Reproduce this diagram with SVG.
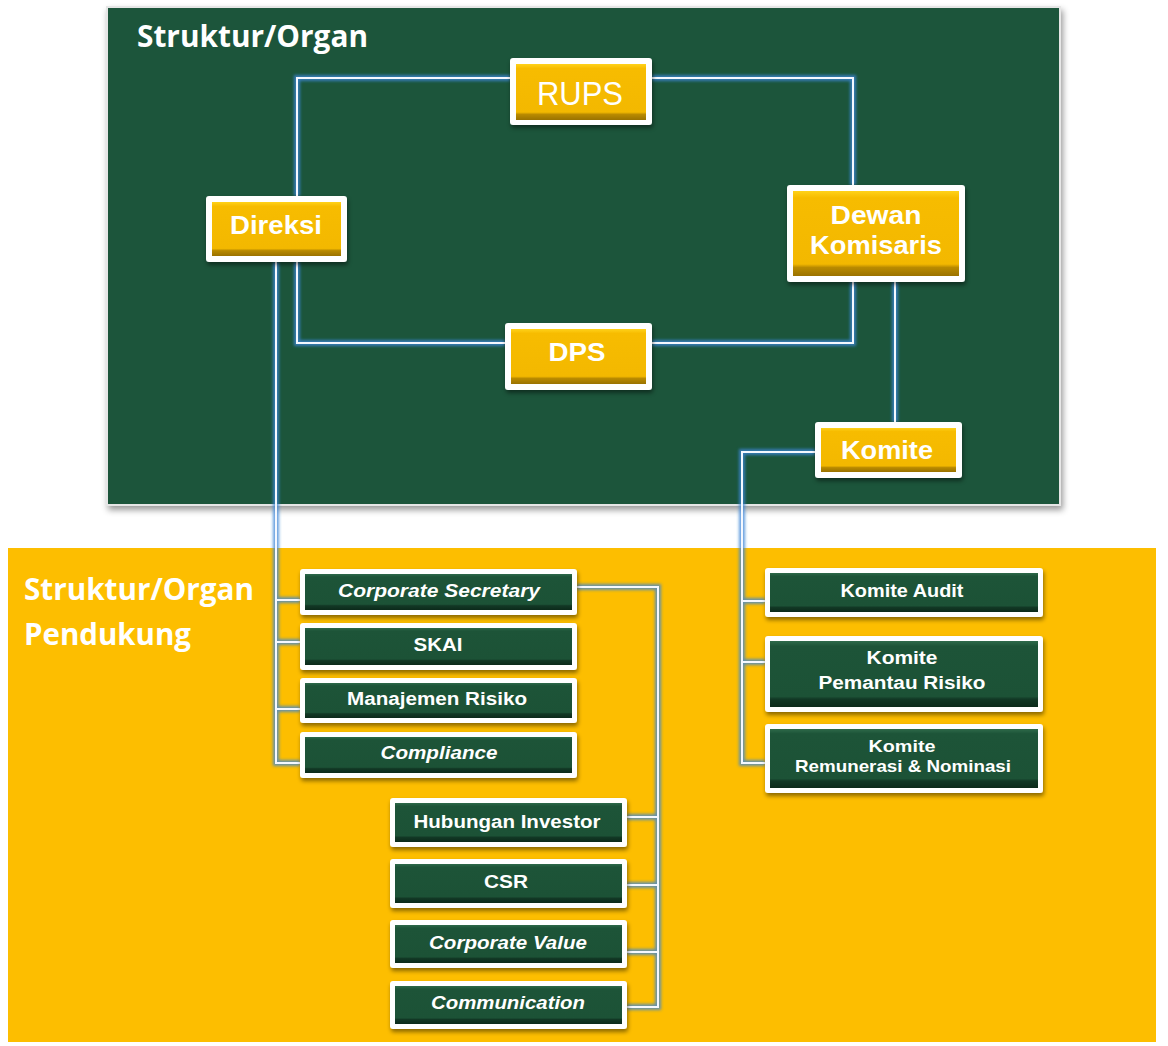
<svg xmlns="http://www.w3.org/2000/svg" width="1168" height="1046" viewBox="0 0 1168 1046">
<defs>
<filter id="sh" x="-10%" y="-10%" width="130%" height="140%"><feDropShadow dx="1" dy="3" stdDeviation="2" flood-color="#000" flood-opacity="0.45"/></filter>
<filter id="psh" x="-5%" y="-5%" width="110%" height="110%"><feDropShadow dx="2" dy="4" stdDeviation="3" flood-color="#000" flood-opacity="0.4"/></filter>
<filter id="glow" x="-20%" y="-20%" width="140%" height="140%"><feGaussianBlur stdDeviation="1.5"/></filter>
<linearGradient id="yel" x1="0" y1="0" x2="0" y2="1">
<stop offset="0" stop-color="#FFD21A"/><stop offset="0.08" stop-color="#F7BC00"/><stop offset="0.86" stop-color="#F3B800"/><stop offset="0.9" stop-color="#B98A00"/><stop offset="1" stop-color="#9A7200"/>
</linearGradient>
<linearGradient id="grn" x1="0" y1="0" x2="0" y2="1">
<stop offset="0" stop-color="#2E6A4A"/><stop offset="0.08" stop-color="#1D5438"/><stop offset="0.84" stop-color="#1C5236"/><stop offset="0.88" stop-color="#123825"/><stop offset="1" stop-color="#0C2A1A"/>
</linearGradient>
<style>
.panelG{fill:#1D553B;stroke:#E6E6E6;stroke-width:2}
.panelY{fill:#FDBE00}
.title{font-family:"Open Sans","Liberation Sans",sans-serif;font-weight:bold;fill:#fff;font-size:30px}
.outer{fill:#fff}
.yi{fill:url(#yel)}
.gi{fill:url(#grn)}
.yt{font-family:"Liberation Sans",Arial,sans-serif;font-weight:bold;fill:#fff;font-size:25px;text-anchor:middle}
.gt{font-family:"Liberation Sans",Arial,sans-serif;font-weight:bold;fill:#fff;font-size:18px;text-anchor:middle}
.it{font-style:italic}
.cg{fill:none;stroke:#3B86D6;stroke-width:6;opacity:0.8}
.cw{fill:none;stroke:#F4F8FF;stroke-width:2}
</style>
</defs>

<rect x="107" y="7" width="953" height="498" class="panelG" filter="url(#psh)"/>
<rect x="8" y="548" width="1148" height="494" class="panelY"/>
<text class="title" x="137" y="47" textLength="231" lengthAdjust="spacingAndGlyphs">Struktur/Organ</text>
<text class="title" x="24" y="600" textLength="230" lengthAdjust="spacingAndGlyphs">Struktur/Organ</text>
<text class="title" x="24" y="645" textLength="167" lengthAdjust="spacingAndGlyphs">Pendukung</text>

<g id="connectors">
<g filter="url(#glow)">
<path class="cg" d="M297,196 V78 H510 M652,78 H853 V185 M297,262 V343 H505 M652,343 H853 V282 M895,282 V422"/>
<path class="cg" d="M276,262 V763 H300 M276,600 H300 M276,642 H300 M276,709 H300"/>
<path class="cg" d="M815,452 H742 V763 H765 M742,601 H765 M742,662 H765"/>
<path class="cg" d="M577,587 H658 V1007 H627 M658,817 H627 M658,885 H627 M658,952 H627"/>
</g>
<path class="cw" d="M297,196 V78 H510 M652,78 H853 V185 M297,262 V343 H505 M652,343 H853 V282 M895,282 V422"/>
<path class="cw" d="M276,262 V763 H300 M276,600 H300 M276,642 H300 M276,709 H300"/>
<path class="cw" d="M815,452 H742 V763 H765 M742,601 H765 M742,662 H765"/>
<path class="cw" d="M577,587 H658 V1007 H627 M658,817 H627 M658,885 H627 M658,952 H627"/>
</g>

<g id="rups"><rect class="outer" x="510" y="58" width="142" height="67" rx="3" filter="url(#sh)"/><rect class="yi" x="516" y="64" width="130" height="56"/>
<text class="yt" x="580" y="105" font-weight="normal" style="font-weight:normal;font-size:34px" textLength="86" lengthAdjust="spacingAndGlyphs">RUPS</text></g>
<g id="direksi"><rect class="outer" x="206" y="196" width="141" height="66" rx="3" filter="url(#sh)"/><rect class="yi" x="212" y="202" width="129" height="54"/>
<text class="yt" x="276" y="234" textLength="92" lengthAdjust="spacingAndGlyphs">Direksi</text></g>
<g id="dewan"><rect class="outer" x="787" y="185" width="178" height="97" rx="3" filter="url(#sh)"/><rect class="yi" x="793" y="191" width="166" height="85"/>
<text class="yt" x="876" y="224" textLength="91" lengthAdjust="spacingAndGlyphs">Dewan</text>
<text class="yt" x="876" y="254" textLength="132" lengthAdjust="spacingAndGlyphs">Komisaris</text></g>
<g id="dps"><rect class="outer" x="505" y="323" width="147" height="67" rx="3" filter="url(#sh)"/><rect class="yi" x="511" y="329" width="135" height="55"/>
<text class="yt" x="577" y="361" textLength="57" lengthAdjust="spacingAndGlyphs">DPS</text></g>
<g id="komite"><rect class="outer" x="815" y="422" width="147" height="56" rx="3" filter="url(#sh)"/><rect class="yi" x="821" y="428" width="135" height="44"/>
<text class="yt" x="887" y="459" textLength="92" lengthAdjust="spacingAndGlyphs">Komite</text></g>

<g id="corpsec"><rect class="outer" x="300" y="569" width="277" height="46" rx="3" filter="url(#sh)"/><rect class="gi" x="305" y="574" width="267" height="36"/>
<text class="gt it" x="439" y="597" textLength="202" lengthAdjust="spacingAndGlyphs">Corporate Secretary</text></g>
<g id="skai"><rect class="outer" x="300" y="623" width="277" height="47" rx="3" filter="url(#sh)"/><rect class="gi" x="305" y="628" width="267" height="37"/>
<text class="gt" x="438" y="651" textLength="49" lengthAdjust="spacingAndGlyphs">SKAI</text></g>
<g id="manrisk"><rect class="outer" x="300" y="678" width="277" height="45" rx="3" filter="url(#sh)"/><rect class="gi" x="305" y="683" width="267" height="35"/>
<text class="gt" x="437" y="705" textLength="180" lengthAdjust="spacingAndGlyphs">Manajemen Risiko</text></g>
<g id="compliance"><rect class="outer" x="300" y="732" width="277" height="46" rx="3" filter="url(#sh)"/><rect class="gi" x="305" y="737" width="267" height="36"/>
<text class="gt it" x="439" y="759" textLength="117" lengthAdjust="spacingAndGlyphs">Compliance</text></g>

<g id="hubungan"><rect class="outer" x="390" y="798" width="237" height="49" rx="3" filter="url(#sh)"/><rect class="gi" x="395" y="803" width="227" height="39"/>
<text class="gt" x="507" y="828" textLength="187" lengthAdjust="spacingAndGlyphs">Hubungan Investor</text></g>
<g id="csr"><rect class="outer" x="390" y="859" width="237" height="49" rx="3" filter="url(#sh)"/><rect class="gi" x="395" y="864" width="227" height="39"/>
<text class="gt" x="506" y="888" textLength="44" lengthAdjust="spacingAndGlyphs">CSR</text></g>
<g id="corpvalue"><rect class="outer" x="390" y="920" width="237" height="48" rx="3" filter="url(#sh)"/><rect class="gi" x="395" y="925" width="227" height="38"/>
<text class="gt it" x="508" y="949" textLength="158" lengthAdjust="spacingAndGlyphs">Corporate Value</text></g>
<g id="communication"><rect class="outer" x="390" y="981" width="237" height="48" rx="3" filter="url(#sh)"/><rect class="gi" x="395" y="986" width="227" height="38"/>
<text class="gt it" x="508" y="1009" textLength="154" lengthAdjust="spacingAndGlyphs">Communication</text></g>

<g id="komiteaudit"><rect class="outer" x="765" y="568" width="278" height="49" rx="3" filter="url(#sh)"/><rect class="gi" x="770" y="573" width="268" height="39"/>
<text class="gt" x="902" y="597" textLength="123" lengthAdjust="spacingAndGlyphs">Komite Audit</text></g>
<g id="komitepemantau"><rect class="outer" x="765" y="636" width="278" height="76" rx="3" filter="url(#sh)"/><rect class="gi" x="770" y="641" width="268" height="66"/>
<text class="gt" x="902" y="664" textLength="71" lengthAdjust="spacingAndGlyphs">Komite</text>
<text class="gt" x="902" y="689" textLength="167" lengthAdjust="spacingAndGlyphs">Pemantau Risiko</text></g>
<g id="komiteremun"><rect class="outer" x="765" y="724" width="278" height="69" rx="3" filter="url(#sh)"/><rect class="gi" x="770" y="729" width="268" height="59"/>
<text class="gt" x="902" y="752" style="font-size:17px" textLength="67" lengthAdjust="spacingAndGlyphs">Komite</text>
<text class="gt" x="903" y="772" style="font-size:17px" textLength="216" lengthAdjust="spacingAndGlyphs">Remunerasi &amp; Nominasi</text></g>
</svg>
